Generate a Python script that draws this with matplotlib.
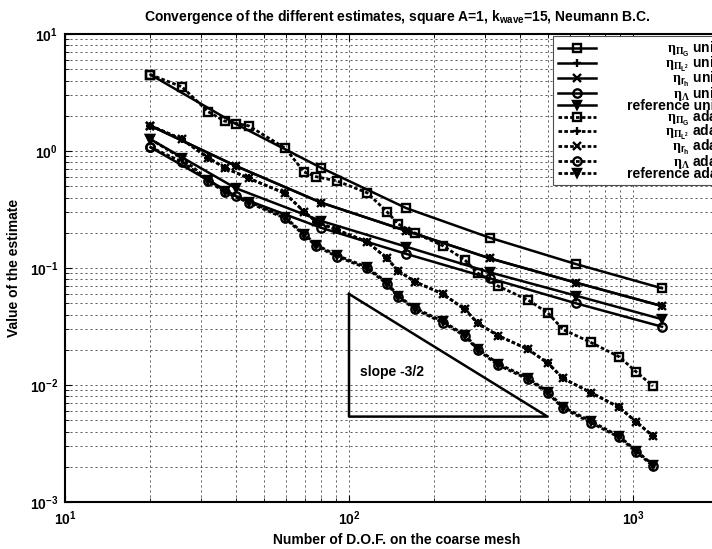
import matplotlib
matplotlib.use("Agg")
import matplotlib.pyplot as plt

# uniform refinement: degrees of freedom and estimates
dof_uni = [20, 40, 80, 159, 313, 630, 1265]
eta_G_uni = [4.49, 1.70, 0.716, 0.325, 0.1815, 0.108, 0.0671]
eta_L2_uni = [1.645, 0.744, 0.361, 0.208, 0.121, 0.0749, 0.0473]
eta_rh_uni = [1.645, 0.744, 0.361, 0.208, 0.121, 0.0749, 0.0473]
eta_lam_uni = [1.076, 0.412, 0.220, 0.132, 0.0817, 0.0499, 0.0315]
ref_uni = [1.26, 0.480, 0.252, 0.152, 0.0918, 0.058, 0.0365]

# adaptive refinement
dof_ada = [20, 25.8, 31.9, 36.5, 44.4, 59.5, 69.5, 76.6, 90.8, 115.7, 136, 148.8,
           170.6, 214, 256, 284, 335, 427, 502, 567, 711, 893, 1025, 1175]
eta_G_ada = [4.49, 3.54, 2.17, 1.80, 1.64, 1.06, 0.662, 0.603, 0.554, 0.440, 0.303, 0.238,
             0.199, 0.155, 0.117, 0.0906, 0.0701, 0.0532, 0.0412, 0.0298, 0.0231, 0.01745, 0.0130, 0.0098]
eta_L2_ada = [1.645, 1.26, 0.876, 0.720, 0.584, 0.435, 0.303, 0.249, 0.211, 0.168, 0.121, 0.0948,
              0.0764, 0.060, 0.0443, 0.0337, 0.0264, 0.0202, 0.01533, 0.0114, 0.0086, 0.00645, 0.00486, 0.00366]
eta_rh_ada = [1.645, 1.26, 0.876, 0.720, 0.584, 0.435, 0.303, 0.249, 0.211, 0.168, 0.121, 0.0948,
              0.0764, 0.060, 0.0443, 0.0337, 0.0264, 0.0202, 0.01533, 0.0114, 0.0086, 0.00645, 0.00486, 0.00366]
eta_lam_ada = [1.076, 0.810, 0.556, 0.445, 0.361, 0.266, 0.191, 0.154, 0.125, 0.0994, 0.073, 0.0569,
               0.0444, 0.0341, 0.0262, 0.0199, 0.0148, 0.0112, 0.0085, 0.00632, 0.00476, 0.00357, 0.00269, 0.00203]
ref_ada = [1.26, 0.867, 0.57, 0.455, 0.37, 0.272, 0.196, 0.158, 0.128, 0.102, 0.075, 0.058,
           0.0455, 0.035, 0.0268, 0.0204, 0.0152, 0.0115, 0.0087, 0.0065, 0.0049, 0.00366, 0.00275, 0.00208]

# slope -3/2 guide triangle
slope_x = [100, 100, 500, 100]
slope_y = [0.06, 0.00537, 0.00537, 0.06]

names = [r'$\mathrm{\eta}_{\mathrm{\Pi}_{\mathdefault{G}}}$',
         r'$\mathrm{\eta}_{\mathrm{\Pi}_{\mathdefault{L^2}}}$',
         r'$\mathrm{\eta}_{\mathdefault{r_h}}$',
         r'$\mathrm{\eta}_{\mathrm{\Lambda}}$',
         'reference']

plt.rcParams['font.family'] = ['Liberation Sans', 'DejaVu Sans']
plt.rcParams['font.weight'] = 'bold'
plt.rcParams['axes.titleweight'] = 'bold'
plt.rcParams['axes.labelweight'] = 'bold'
plt.rcParams['font.size'] = 10
plt.rcParams['mathtext.fontset'] = 'custom'
plt.rcParams['mathtext.rm'] = 'Liberation Serif'
plt.rcParams['mathtext.it'] = 'Liberation Sans:bold:italic'
plt.rcParams['mathtext.bf'] = 'Liberation Sans:bold'

fig = plt.figure(figsize=(7.12, 5.49), dpi=100)
ax = fig.add_axes([65 / 712, 47 / 549, 664 / 712, 468 / 549])

markers = ['s', '+', 'x', 'o', 'v']
uni = [eta_G_uni, eta_L2_uni, eta_rh_uni, eta_lam_uni, ref_uni]
ada = [eta_G_ada, eta_L2_ada, eta_rh_ada, eta_lam_ada, ref_ada]

for m, y, n in zip(markers, uni, names):
    fc = 'k' if m == 'v' else 'none'
    ax.plot(dof_uni, y, '-', color='k', lw=1.8, marker=m, ms=6, mew=1.7, mfc=fc,
            label=n + ' uni')
for m, y, n in zip(markers, ada, names):
    fc = 'k' if m == 'v' else 'none'
    ax.plot(dof_ada, y, color='k', lw=2.0, ls=(0, (1.3, 0.8)), marker=m, ms=6, mew=1.7,
            mfc=fc, label=n + ' ada')

ax.plot(slope_x, slope_y, 'k-', lw=1.8)
ax.text(109, 0.0128, 'slope -3/2', fontsize=10, va='center')

ax.set_xscale('log')
ax.set_yscale('log')
ax.set_xlim(10, 10 ** (1 + 664 / 284))
ax.set_ylim(1e-3, 1e1)
ax.grid(True, which='both', color='0.25', lw=0.6, ls=(0, (2.5, 3.5)))
ax.set_axisbelow(True)
ax.tick_params(which='both', direction='in', top=True, right=True, labelsize=10, pad=5)
ax.tick_params(which='major', length=5, width=0.8)
ax.tick_params(which='minor', length=3, width=0.6)
for s in ax.spines.values():
    s.set_linewidth(1.5)

ax.set_title('Convergence of the different estimates, square A=1, k$_{\\mathdefault{wave}}$=15, Neumann B.C.',
             fontsize=10, pad=9)
ax.set_xlabel('Number of D.O.F. on the coarse mesh', labelpad=4)
ax.set_ylabel('Value of the estimate', labelpad=6)

leg = ax.legend(loc='upper right', bbox_to_anchor=(0.989, 0.996), borderaxespad=0,
                fontsize=10, handlelength=2.8, handletextpad=2.2, labelspacing=-0.3,
                borderpad=0.3, fancybox=False, framealpha=1, edgecolor='0.3')
leg.get_frame().set_linewidth(0.8)

# right-align the estimator names so that "uni"/"ada" start in one column
fig.canvas.draw()
rend = fig.canvas.get_renderer()
widths = []
for t in leg.get_texts():
    head = t.get_text().rsplit(' ', 1)[0]
    probe = fig.text(0, 0, head, fontproperties=t.get_fontproperties())
    widths.append(probe.get_window_extent(rend).width)
    probe.remove()
for t, w in zip(leg.get_texts(), widths):
    t.set_x(max(widths) - w)

fig.savefig('out.png', dpi=100)
